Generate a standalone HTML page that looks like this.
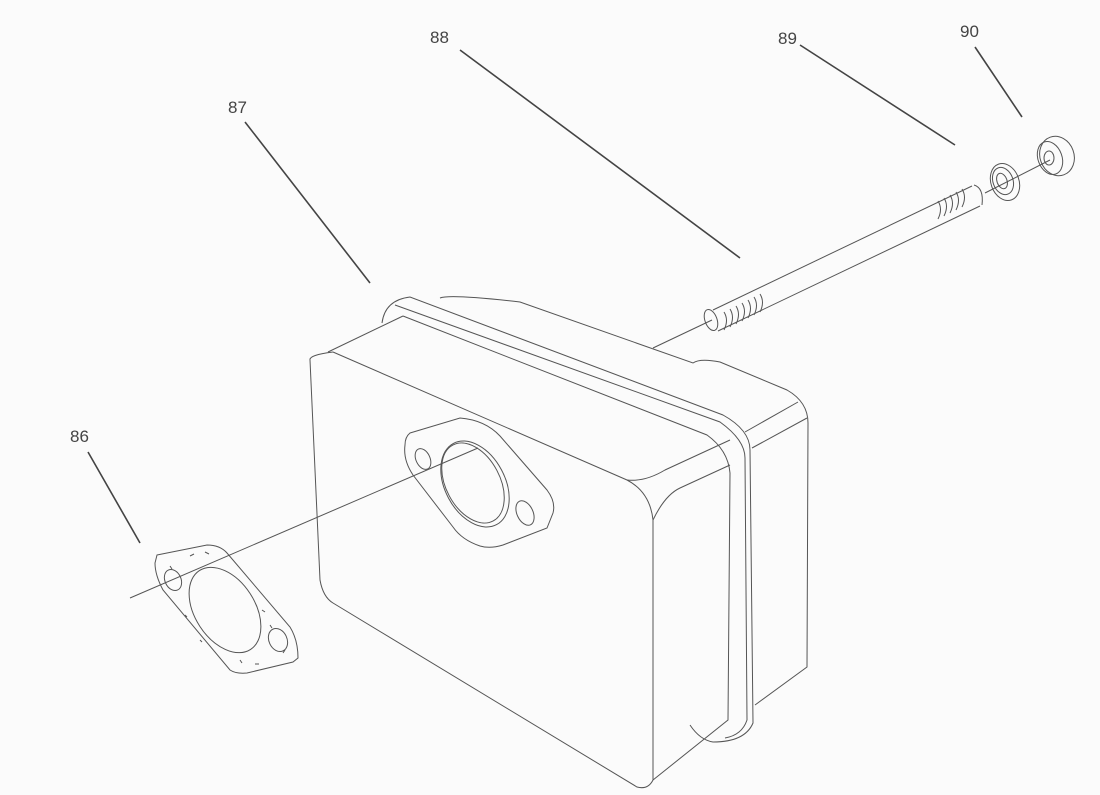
<!DOCTYPE html>
<html><head><style>html,body{margin:0;padding:0;background:#fbfbfb}svg{display:block}
text{font-family:"Liberation Sans",sans-serif;font-size:17px;fill:#444}</style></head>
<body>
<svg width="1100" height="795" viewBox="0 0 1100 795" xmlns="http://www.w3.org/2000/svg">
<g stroke="#444" stroke-width="1.6" fill="none">
<line x1="245" y1="122" x2="370" y2="283"/>
<line x1="88" y1="452" x2="140" y2="543"/>
<line x1="460" y1="50" x2="740" y2="258"/>
<line x1="800" y1="45" x2="955" y2="145"/>
<line x1="975" y1="47" x2="1022" y2="117"/>
</g>
<text x="70" y="442">86</text><text x="228" y="113">87</text><text x="430" y="43">88</text>
<text x="778" y="44">89</text><text x="960" y="37">90</text>
<g stroke="#555" stroke-width="1" fill="none">
<line x1="130" y1="598" x2="478" y2="448"/>
<line x1="653" y1="348" x2="712" y2="320"/>
<line x1="985" y1="193" x2="1050" y2="160"/>
<path d="M440,298 Q450,294 520,302 L693,363 Q700,358 720,362 L787,390 Q808,402 808,423 L807,667 L755,705"/>
<line x1="745" y1="432" x2="798" y2="402"/>
<line x1="752" y1="448" x2="807" y2="418"/>
<path d="M382,323 Q385,300 410,297 L723,415 Q750,430 750,450 L753,723 Q745,742 713,742 Q700,740 690,725"/>
<path d="M395,305 L720,422 Q745,440 745,458 L747,720 Q742,735 725,738"/>
<path d="M403,316 L707,435 Q728,450 730,473 L728,720 L653,780"/>
<path d="M328,352 L403,316"/>
<path d="M333,352 L627,480 Q650,492 653,520"/>
<path d="M310,360 Q309,355 333,352 M310,360 L320,580 Q323,597 333,603 L637,787 Q648,790 653,780 L653,520"/>
<path d="M627,480 Q645,482 665,470 L730,440"/>
<path d="M653,520 Q665,495 680,488 L730,465"/>
<path d="M410,433 L460,418 Q485,420 500,436 L547,490 Q556,502 553,513 L547,528 L503,545 Q490,549 480,546 Q462,540 453,527 L413,475 Q403,460 405,445 Q405,437 410,433 Z"/>
<ellipse cx="473" cy="483" rx="27" ry="43" transform="rotate(-28 473 483)"/>
<ellipse cx="475" cy="484" rx="30" ry="46" transform="rotate(-28 475 484)"/>
<ellipse cx="423" cy="459" rx="7" ry="11" transform="rotate(-25 423 459)"/>
<ellipse cx="525" cy="513" rx="8" ry="13" transform="rotate(-25 525 513)"/>
<path d="M157,555 L207,545 Q220,545 227,553 L290,627 Q298,640 298,658 L293,662 L247,673 Q236,674 230,670 L163,590 Q155,575 155,563 Z"/>
<ellipse cx="225" cy="610" rx="30" ry="47" transform="rotate(-33 225 610)"/>
<ellipse cx="173" cy="580" rx="8" ry="11" transform="rotate(-25 173 580)"/>
<ellipse cx="278" cy="640" rx="9" ry="12" transform="rotate(-25 278 640)"/>
<path d="M190,556 l4,-2 M205,552 l4,2 M170,566 l2,3 M262,610 l3,2 M270,625 l2,3 M285,650 l-2,3 M255,664 l4,0 M240,660 l2,3 M185,615 l2,2 M200,640 l2,2" stroke-width="1"/>
<line x1="713" y1="310" x2="972" y2="186"/>
<line x1="718" y1="331" x2="980" y2="206"/>
<ellipse cx="711" cy="320" rx="6" ry="11" transform="rotate(-20 711 320)"/>
<path d="M974,185 Q984,188 982,205"/>
<path d="M724,312 q5,8 0,18 M730,309 q5,8 0,18 M736,306 q5,8 0,18 M742,303 q5,8 0,18 M748,300 q5,8 0,18 M754,297 q5,8 0,18 M760,294 q5,8 0,18"/>
<path d="M938,201 q5,8 0,18 M944,198 q5,8 0,18 M950,195 q5,8 0,18 M956,192 q5,8 0,18 M962,189 q5,8 0,18"/>
<ellipse cx="1005" cy="182" rx="14" ry="19" transform="rotate(-20 1005 182)"/>
<ellipse cx="1003" cy="181" rx="10" ry="14" transform="rotate(-20 1003 181)"/>
<ellipse cx="1002" cy="181" rx="5" ry="8" transform="rotate(-20 1002 181)"/>
<ellipse cx="1057" cy="156" rx="17" ry="20" transform="rotate(-20 1057 156)"/>
<ellipse cx="1050" cy="158" rx="12" ry="17" transform="rotate(-20 1050 158)"/>
<ellipse cx="1049" cy="158" rx="5" ry="7"/>
</g>
</svg>
</body></html>
